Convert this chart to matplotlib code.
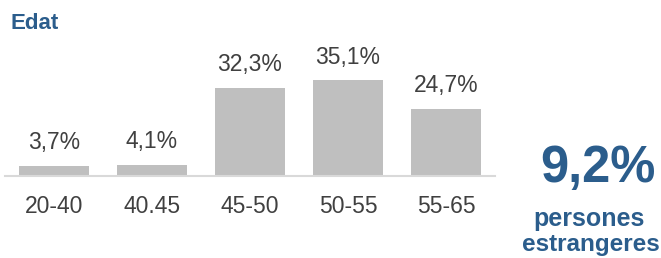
import matplotlib.pyplot as plt

# age groups and share of people (%)
categories = ['20-40', '40.45', '45-50', '50-55', '55-65']
values = [3.7, 4.1, 32.3, 35.1, 24.7]
labels = ['3,7%', '4,1%', '32,3%', '35,1%', '24,7%']
highlight = '9,2%'
highlight_text = ['persones', 'estrangeres']

blue = '#2b5d8c'
grey_text = '#404040'
bar_color = '#bfbfbf'

plt.rcParams['font.family'] = ['Liberation Sans', 'DejaVu Sans']

fig = plt.figure(figsize=(6.61, 2.58), dpi=100)
ax = fig.add_axes([5 / 661, 82 / 258, 490 / 661, 176 / 258])

x = range(len(categories))
ax.bar(x, values, width=0.714, color=bar_color)
for i, v in enumerate(values):
    ax.text(i, v + 4.2, labels[i], ha='center', va='bottom', fontsize=16.5, color=grey_text)

ax.set_xlim(-0.5, 4.5)
ax.set_ylim(0, 64.5)
ax.set_xticks(list(x))
ax.set_xticklabels(categories, fontsize=16.5, color=grey_text)
ax.tick_params(axis='x', length=0, pad=14)
ax.set_yticks([])
for s in ['top', 'right', 'left']:
    ax.spines[s].set_visible(False)
ax.spines['bottom'].set_color('#d9d9d9')
ax.spines['bottom'].set_linewidth(1.5)

fig.text(10 / 661, 1 - 24 / 258, 'Edat', fontsize=16, fontweight='bold', color=blue, va='center', ha='left')
fig.text(598 / 661, 1 - 168 / 258, highlight, fontsize=36.5, fontweight='bold', color=blue, ha='center', va='center')
fig.text(589 / 661, 1 - 219 / 258, highlight_text[0], fontsize=18, fontweight='bold', color=blue, ha='center', va='center')
fig.text(591 / 661, 1 - 245 / 258, highlight_text[1], fontsize=17.5, fontweight='bold', color=blue, ha='center', va='center')

fig.savefig('out.png', dpi=100)
